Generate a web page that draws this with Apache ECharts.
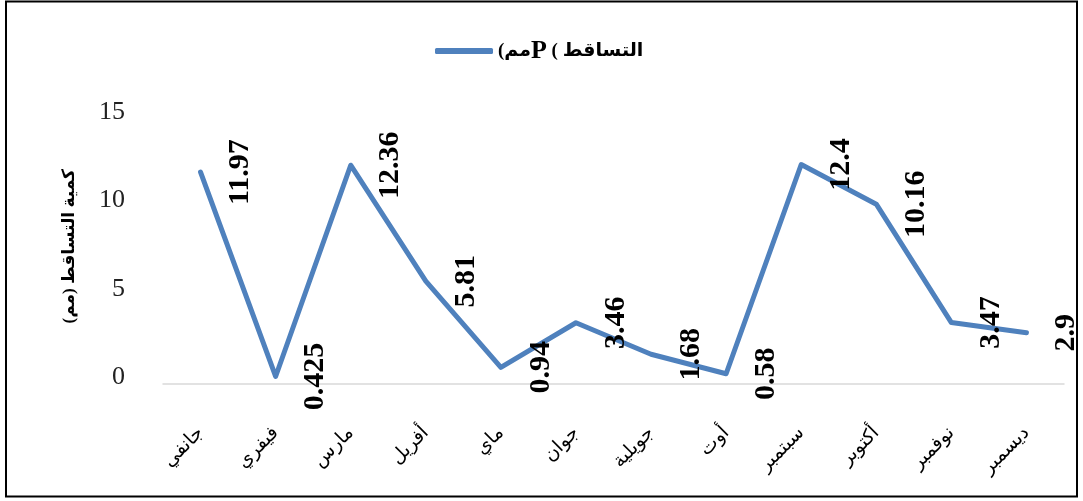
<!DOCTYPE html>
<html>
<head>
<meta charset="utf-8">
<script src="https://cdn.jsdelivr.net/npm/echarts@6/dist/echarts.min.js"></script>
<style>
html,body{margin:0;padding:0;background:#fff;}
#c{width:1083px;height:501px;}
</style>
</head>
<body>
<div id="c"></div>
<script>
var categories = ['جانفي','فيفري','مارس','أفريل','ماي','جوان','جويلية','أوت','سبتمبر','أكتوبر','نوفمبر','ديسمبر'];
var precipitation = [11.97, 0.425, 12.36, 5.81, 0.94, 3.46, 1.68, 0.58, 12.4, 10.16, 3.47, 2.9];
var yTicks = {min: 0, max: 15, interval: 5};
var seriesName = 'التساقط';
var yAxisTitle = '\u200Fكمية التساقط (مم)\u200F';

var chart = echarts.init(document.getElementById('c'));
chart.setOption({
  backgroundColor: '#fff',
  animation: false,
  graphic: [{
    type: 'rect',
    shape: {x: 6, y: 1.5, width: 1071, height: 495},
    style: {fill: 'none', stroke: '#000', lineWidth: 2},
    silent: true
  }],
  legend: {
    top: 33,
    left: 430,
    itemWidth: 58,
    itemHeight: 6,
    itemGap: 6,
    data: [{name: seriesName, icon: 'roundRect', itemStyle: {color: '#4f81bd'}}],
    formatter: function () { return '{a|(مم}{b|P}{a| ( التساقط}'; },
    textStyle: {
      rich: {
        a: {fontFamily: 'Liberation Serif, DejaVu Sans', fontWeight: 'bold', fontSize: 19, color: '#000'},
        b: {fontFamily: 'Liberation Serif', fontWeight: 'bold', fontSize: 26, color: '#000'}
      }
    }
  },
  grid: {left: 163, right: 19, top: 118.5, bottom: 117},
  xAxis: {
    type: 'category',
    data: categories,
    boundaryGap: true,
    axisLine: {show: true, lineStyle: {color: '#d9d9d9', width: 1.5}},
    axisTick: {show: false},
    axisLabel: {
      rotate: 45,
      margin: 46,
      fontSize: 19,
      fontFamily: 'Liberation Serif, DejaVu Sans',
      color: '#000'
    }
  },
  yAxis: {
    type: 'value',
    min: yTicks.min,
    max: yTicks.max,
    interval: yTicks.interval,
    name: yAxisTitle,
    nameLocation: 'middle',
    nameRotate: 90,
    nameGap: 85,
    nameTextStyle: {fontFamily: 'Liberation Serif, DejaVu Sans', fontWeight: 'bold', fontSize: 17, color: '#000', padding: [0, 0, 0, 10]},
    axisLine: {show: false},
    axisTick: {show: false},
    splitLine: {show: false},
    axisLabel: {
      margin: 38,
      fontSize: 26,
      fontFamily: 'Liberation Serif',
      color: '#222',
      verticalAlign: 'bottom',
      lineHeight: 13
    }
  },
  series: [{
    name: seriesName,
    type: 'line',
    data: precipitation,
    symbol: 'circle',
    symbolSize: 1,
    showSymbol: true,
    lineStyle: {color: '#4f81bd', width: 5, cap: 'round', join: 'round'},
    itemStyle: {color: 'rgba(79,129,189,0)'},
    label: {
      show: true,
      position: 'inside',
      offset: [0, 40],
      rotate: 90,
      align: 'center',
      verticalAlign: 'middle',
      fontFamily: 'Liberation Serif',
      fontWeight: 'bold',
      fontSize: 30,
      color: '#000'
    }
  }]
});
</script>
</body>
</html>
